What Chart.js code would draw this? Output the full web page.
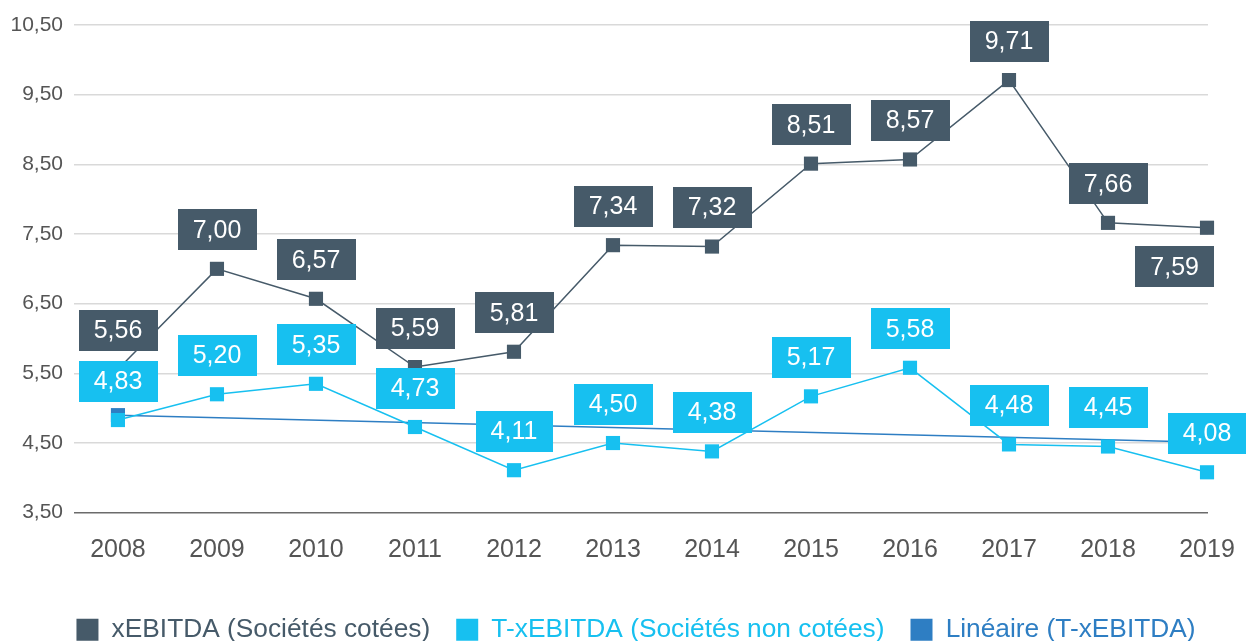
<!DOCTYPE html>
<html>
<head>
<meta charset="utf-8">
<script src="https://cdn.jsdelivr.net/npm/chart.js@4"></script>
<style>
  html, body { margin: 0; padding: 0; background: #fff; }
  #wrap { width: 1246px; height: 641px; }
</style>
</head>
<body>
<div id="wrap"><canvas id="chart"></canvas></div>
<script>
const years = [2008, 2009, 2010, 2011, 2012, 2013, 2014, 2015, 2016, 2017, 2018, 2019];
const cotees = [5.56, 7.00, 6.57, 5.59, 5.81, 7.34, 7.32, 8.51, 8.57, 9.71, 7.66, 7.59];
const nonCotees = [4.83, 5.20, 5.35, 4.73, 4.11, 4.50, 4.38, 5.17, 5.58, 4.48, 4.45, 4.08];
// trend line: start and end only
const trendYears = [2008, 2019];
const trendValues = [4.90, 4.51];
// where the value box sits for the dark series
const cotees_labelPos = ['top', 'top', 'top', 'top', 'top', 'top', 'top', 'top', 'top', 'top', 'top', 'bottom'];

const DARK = '#465a69';
const LIGHT = '#17c0f0';
const TREND = '#2e7ec3';
const FONT = '"Liberation Sans", Arial, Helvetica, sans-serif';

const fmt = v => v.toFixed(2).replace('.', ',');

const valueBoxes = {
  id: 'valueBoxes',
  afterDatasetsDraw(chart) {
    const ctx = chart.ctx;
    ctx.save();
    ctx.font = '25px ' + FONT;
    ctx.textAlign = 'center';
    ctx.textBaseline = 'middle';
    chart.data.datasets.forEach((ds, di) => {
      if (!ds.boxes) return;
      const meta = chart.getDatasetMeta(di);
      meta.data.forEach((pt, i) => {
        const text = fmt(ds.data[i].y);
        const w = ctx.measureText(text).width + 30;
        const h = 41;
        const pos = ds.labelPos ? ds.labelPos[i] : 'top';
        let cx = pt.x, cy = pt.y - 39;
        if (pos === 'bottom') {
          cy = pt.y + 39;
          cx = pt.x + 7 - w / 2;
        }
        ctx.fillStyle = ds.borderColor;
        ctx.fillRect(Math.round(cx - w / 2), Math.round(cy - h / 2), Math.round(w), h);
        ctx.fillStyle = '#fff';
        ctx.fillText(text, cx, cy + 1);
      });
    });
    ctx.restore();
  }
};

// legend in the reference sits a little right of the canvas centre
const legendShift = {
  id: 'legendShift',
  afterLayout(chart) {
    chart.legend.left += 32;
    chart.legend.right += 32;
  }
};

new Chart(document.getElementById('chart'), {
  type: 'line',
  data: {
    datasets: [
      {
        label: 'xEBITDA (Sociétés cotées)',
        data: years.map((y, i) => ({ x: y, y: cotees[i] })),
        borderColor: DARK,
        backgroundColor: DARK,
        borderWidth: 1.5,
        pointStyle: 'rect',
        pointRadius: 10,
        pointBorderWidth: 0,
        clip: false,
        boxes: true,
        labelPos: cotees_labelPos
      },
      {
        label: 'T-xEBITDA (Sociétés non cotées)',
        data: years.map((y, i) => ({ x: y, y: nonCotees[i] })),
        borderColor: LIGHT,
        backgroundColor: LIGHT,
        borderWidth: 1.5,
        pointStyle: 'rect',
        pointRadius: 10,
        pointBorderWidth: 0,
        clip: false,
        boxes: true
      },
      {
        label: 'Linéaire (T-xEBITDA)',
        data: trendYears.map((y, i) => ({ x: y, y: trendValues[i] })),
        borderColor: TREND,
        backgroundColor: TREND,
        borderWidth: 1.5,
        pointStyle: 'rect',
        pointRadius: 10,
        pointBorderWidth: 0,
        clip: false
      }
    ]
  },
  options: {
    responsive: true,
    maintainAspectRatio: false,
    animation: false,
    layout: { padding: { left: 0, right: 38, top: 25, bottom: -12 } },
    plugins: {
      tooltip: { enabled: false },
      legend: {
        position: 'bottom',
        labels: {
          font: { family: FONT, size: 26.3 },
          boxWidth: 22,
          boxHeight: 22,
          padding: 26,
          generateLabels: chart => chart.data.datasets.map((ds, i) => ({
            text: ds.label,
            fillStyle: ds.borderColor,
            strokeStyle: ds.borderColor,
            fontColor: ds.borderColor,
            lineWidth: 0,
            hidden: false,
            datasetIndex: i
          }))
        }
      }
    },
    scales: {
      x: {
        type: 'linear',
        min: 2007.556,
        max: 2019.01,
        afterBuildTicks: scale => { scale.ticks = years.map(v => ({ value: v })); },
        afterFit: scale => {
          scale.height = 78;
          scale.paddingLeft = 0;
          scale.paddingRight = 0;
        },
        grid: { display: false, drawTicks: false },
        border: { display: false },
        ticks: {
          padding: 22,
          color: '#555',
          font: { family: FONT, size: 25 },
          callback: v => String(v),
          maxRotation: 0,
          autoSkip: false
        }
      },
      y: {
        min: 3.5,
        max: 10.5,
        afterFit: scale => {
          scale.width = 74;
          scale.paddingTop = 0;
          scale.paddingBottom = 0;
        },
        grid: {
          color: ctx => ctx.tick.value === 3.5 ? '#6b6b6b' : '#d9d9d9',
          lineWidth: 1.5,
          drawTicks: false
        },
        border: { display: false },
        ticks: {
          stepSize: 1,
          padding: 11,
          color: '#555',
          font: { family: FONT, size: 21 },
          callback: v => fmt(v)
        }
      }
    }
  },
  plugins: [valueBoxes, legendShift]
});
</script>
</body>
</html>
